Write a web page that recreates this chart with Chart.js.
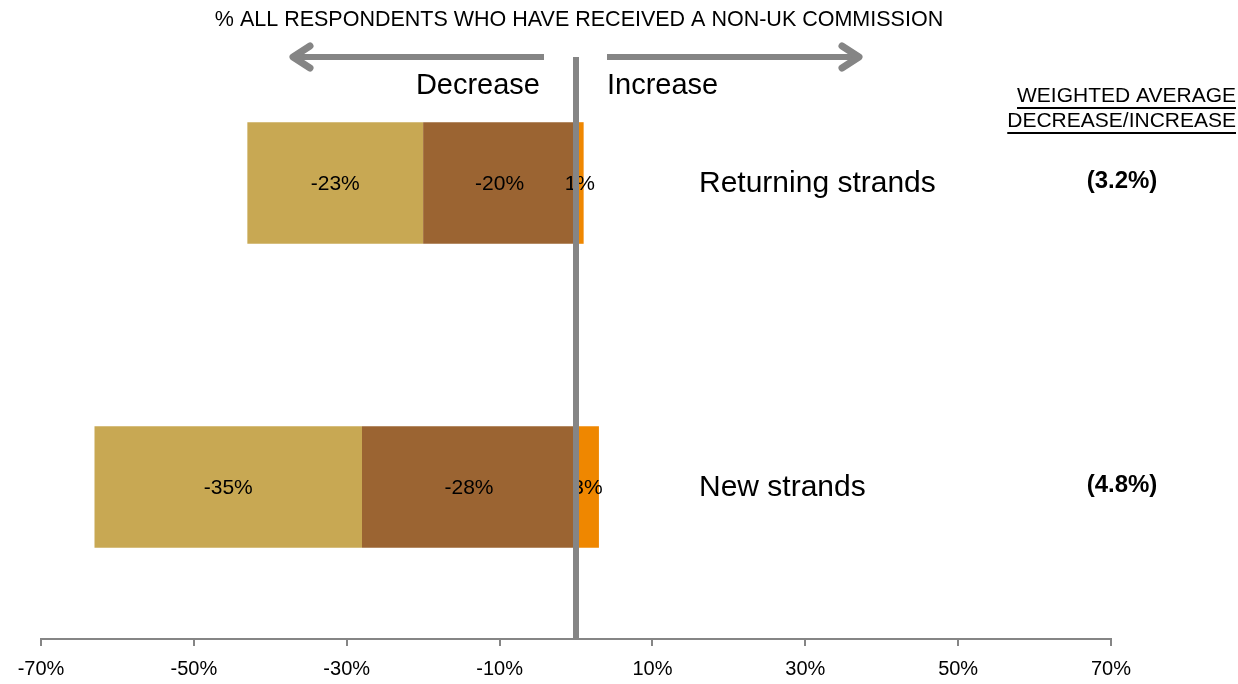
<!DOCTYPE html>
<html>
<head>
<meta charset="utf-8">
<script src="https://cdn.jsdelivr.net/npm/chart.js@4/dist/chart.umd.min.js"></script>
<style>
  html, body { margin: 0; padding: 0; background: #fff; }
  #wrap { width: 1238px; height: 684px; position: relative; }
</style>
</head>
<body>
<div id="wrap"><canvas id="chart"></canvas></div>
<script>
const categories = ['Returning strands', 'New strands'];
const smallDecrease = [-20, -28];
const largeDecrease = [-23, -35];
const increase = [1, 3];
const weightedAverage = [3.2, 4.8];
const xTicks = [-70, -50, -30, -10, 10, 30, 50, 70];

const FONT = '"Liberation Sans", Arial, sans-serif';
const GREY = '#858585';

// values printed inside each bar segment
const barLabels = {
  id: 'barLabels',
  afterDatasetsDraw(chart) {
    const ctx = chart.ctx;
    ctx.save();
    ctx.font = '21px ' + FONT;
    ctx.fillStyle = '#000';
    ctx.textAlign = 'center';
    ctx.textBaseline = 'middle';
    chart.data.datasets.forEach((ds, i) => {
      chart.getDatasetMeta(i).data.forEach((bar, j) => {
        const cx = (bar.x + bar.base) / 2;
        ctx.fillText(ds.data[j] + '%', cx, bar.y + 1);
      });
    });
    ctx.restore();
  }
};

// heading, arrows, zero line and the text to the right of the bars
const decorations = {
  id: 'decorations',
  afterDraw(chart) {
    const ctx = chart.ctx;
    const x0 = chart.scales.x.getPixelForValue(0);
    const yScale = chart.scales.y;
    const area = chart.chartArea;
    ctx.save();

    ctx.fillStyle = '#000';
    ctx.font = '21.5px ' + FONT;
    ctx.textAlign = 'center';
    ctx.textBaseline = 'middle';
    ctx.fillText('% ALL RESPONDENTS WHO HAVE RECEIVED A NON-UK COMMISSION', 579, 20);

    // arrows
    ctx.strokeStyle = GREY;
    ctx.lineWidth = 6;
    ctx.lineCap = 'butt';
    ctx.beginPath();
    ctx.moveTo(544, 57); ctx.lineTo(294, 57);
    ctx.moveTo(607, 57); ctx.lineTo(858, 57);
    ctx.stroke();
    ctx.lineWidth = 7;
    ctx.lineCap = 'round';
    ctx.lineJoin = 'round';
    ctx.beginPath();
    ctx.moveTo(310, 46); ctx.lineTo(293, 57); ctx.lineTo(310, 68);
    ctx.moveTo(842, 46); ctx.lineTo(859, 57); ctx.lineTo(842, 68);
    ctx.stroke();

    ctx.font = '29px ' + FONT;
    ctx.textAlign = 'right';
    ctx.fillText('Decrease', 540, 86);
    ctx.textAlign = 'left';
    ctx.fillText('Increase', 607, 86);

    // zero line
    ctx.fillStyle = GREY;
    ctx.fillRect(x0 - 3, 57, 6, area.bottom - 57);

    // category names and weighted averages
    ctx.fillStyle = '#000';
    categories.forEach((c, i) => {
      const y = yScale.getPixelForValue(i);
      ctx.font = '30px ' + FONT;
      ctx.textAlign = 'left';
      ctx.fillText(c, 699, y + 1);
      ctx.font = 'bold 24px ' + FONT;
      ctx.textAlign = 'center';
      ctx.fillText('(' + weightedAverage[i].toFixed(1) + '%)', 1122, y - 2);
    });

    // underlined heading on the right
    ctx.font = '21px ' + FONT;
    ctx.textAlign = 'right';
    ['WEIGHTED AVERAGE', 'DECREASE/INCREASE'].forEach((t, i) => {
      const y = 96 + i * 25;
      ctx.fillText(t, 1236, y);
      const w = ctx.measureText(t).width;
      ctx.fillRect(1236 - w, y + 11, w, 2);
    });

    ctx.restore();
  }
};

new Chart(document.getElementById('chart'), {
  type: 'bar',
  data: {
    labels: categories,
    datasets: [
      { data: smallDecrease, backgroundColor: '#9B6432' },
      { data: largeDecrease, backgroundColor: '#C8A853' },
      { data: increase, backgroundColor: '#EF8700' }
    ]
  },
  options: {
    indexAxis: 'y',
    responsive: true,
    maintainAspectRatio: false,
    animation: false,
    layout: { padding: { left: 41, right: 127, top: 31, bottom: 0 } },
    datasets: { bar: { categoryPercentage: 1, barPercentage: 0.4 } },
    plugins: { legend: { display: false }, tooltip: { enabled: false } },
    scales: {
      x: {
        stacked: true,
        min: -70,
        max: 70,
        afterBuildTicks: scale => { scale.ticks = xTicks.map(v => ({ value: v })); },
        afterFit: scale => { scale.height = 45; },
        grid: { drawOnChartArea: false, drawTicks: true, tickLength: 7, color: GREY, lineWidth: 2 },
        border: { display: true, color: GREY, width: 2 },
        ticks: {
          padding: 11,
          color: '#000',
          font: { family: FONT, size: 20 },
          maxRotation: 0,
          autoSkip: false,
          callback: v => v + '%'
        }
      },
      y: {
        stacked: true,
        display: false
      }
    }
  },
  plugins: [barLabels, decorations]
});
</script>
</body>
</html>
